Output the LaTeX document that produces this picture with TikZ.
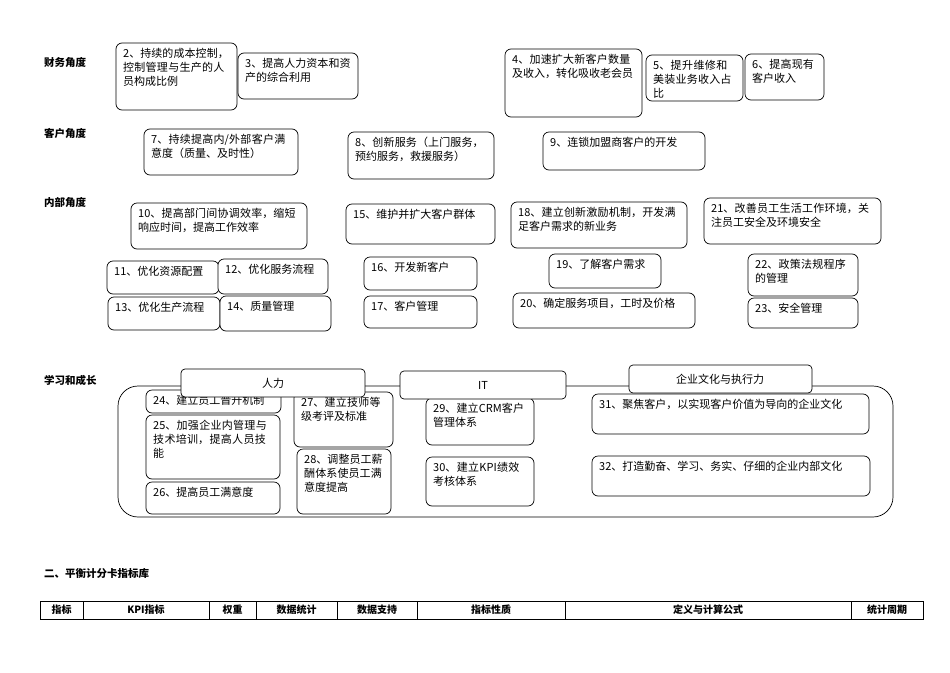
\documentclass[tikz,border=0pt]{standalone}
\usepackage{fontspec}
\setmainfont{Noto Sans CJK SC}
\XeTeXlinebreaklocale "zh"
\XeTeXlinebreakskip=0pt plus 1pt
\tikzset{bx/.style={draw=black,line width=0.7pt,rounded corners=6pt,fill=white},
 tx/.style={anchor=north west,inner sep=0pt,align=left,font=\fontsize{11}{14}\selectfont},
 lab/.style={anchor=west,inner sep=0pt,font=\fontsize{10.5}{12}\selectfont\bfseries},
 th/.style={inner sep=0pt,font=\fontsize{10}{12}\selectfont\bfseries}}
\newcommand\bxx[6]{%
 \draw[bx] (#2pt,-#3pt) rectangle (#4pt,-#5pt);
 \pgfmathsetmacro\tw{#4-#2-14}
 \node[tx,text width=\tw pt] (#1) at ({(#2+7)*1pt},{-(#3+5)*1pt}) {#6};}
\begin{document}
\begin{tikzpicture}[x=1pt,y=1pt]
\useasboundingbox (0,0) rectangle (950,-672);
\node[lab] (l1) at (44,-63) {财务角度};
\node[lab] (l2) at (44,-133) {客户角度};
\node[lab] (l3) at (44,-203) {内部角度};
\node[lab] (l4) at (44,-380) {学习和成长};
\bxx{b2}{116}{43}{237}{110}{2、持续的成本控制，控制管理与生产的人员构成比例}
\bxx{b3}{238}{53}{358}{99}{3、提高人力资本和资产的综合利用}
\bxx{b4}{505}{49}{642}{117}{4、加速扩大新客户数量及收入，转化吸收老会员}
\bxx{b5}{646}{55}{743}{101}{5、提升维修和美装业务收入占比}
\bxx{b6}{745}{54}{824}{100}{6、提高现有客户收入}
\bxx{b7}{144}{129}{298}{175}{7、持续提高内/外部客户满意度（质量、及时性）}
\bxx{b8}{348}{132}{494}{179}{8、创新服务（上门服务，预约服务，救援服务）}
\bxx{b9}{543}{132}{705}{170}{9、连锁加盟商客户的开发}
\bxx{b10}{131}{203}{307}{249}{10、提高部门间协调效率，缩短响应时间，提高工作效率}
\bxx{b15}{346}{204}{495}{244}{15、维护并扩大客户群体}
\bxx{b18}{511}{202}{687}{248}{18、建立创新激励机制，开发满足客户需求的新业务}
\bxx{b21}{704}{198}{881}{244}{21、改善员工生活工作环境，关注员工安全及环境安全}
\bxx{b11}{107}{261}{219}{294}{11、优化资源配置}
\bxx{b12}{218}{259}{328}{294}{12、优化服务流程}
\bxx{b13}{108}{297}{220}{330}{13、优化生产流程}
\bxx{b14}{220}{296}{331}{331}{14、质量管理}
\bxx{b16}{364}{257}{477}{290}{16、开发新客户}
\bxx{b17}{364}{296}{477}{328}{17、客户管理}
\bxx{b19}{549}{254}{661}{288}{19、了解客户需求}
\bxx{b20}{513}{293}{695}{328}{20、确定服务项目，工时及价格}
\bxx{b22}{748}{254}{858}{296}{22、政策法规程序的管理}
\bxx{b23}{748}{298}{858}{328}{23、安全管理}
\draw[bx,rounded corners=20pt] (118,-386) rectangle (893,-517);
\bxx{b24}{146}{390}{281}{413}{24、建立员工晋升机制}
\bxx{b25}{146}{415}{280}{479}{25、加强企业内管理与技术培训，提高人员技能}
\bxx{b26}{146}{482}{280}{514}{26、提高员工满意度}
\bxx{b27}{294}{392}{393}{447}{27、建立技师等级考评及标准}
\bxx{b28}{297}{449}{391}{514}{28、调整员工薪酬体系使员工满意度提高}
\bxx{b29}{426}{398}{534}{445}{29、建立CRM客户管理体系}
\bxx{b30}{426}{457}{534}{506}{30、建立KPI绩效考核体系}
\bxx{b31}{592}{394}{869}{434}{31、聚焦客户，以实现客户价值为导向的企业文化}
\bxx{b32}{592}{456}{870}{496}{32、打造勤奋、学习、务实、仔细的企业内部文化}
\draw[bx,rounded corners=4pt] (181,-369) rectangle (365,-397);
\node[tx,anchor=center] (h1) at (273,-383) {人力};
\draw[bx,rounded corners=4pt] (400,-371) rectangle (566,-399);
\node[tx,anchor=center] (h2) at (483,-385) {IT};
\draw[bx,rounded corners=4pt] (629,-365) rectangle (812,-393);
\node[tx,anchor=center] (h3) at (720,-379) {企业文化与执行力};
\node[lab] (t) at (44,-573) {二、平衡计分卡指标库};
\draw[line width=0.7pt] (40,-601) rectangle (923,-619);
\foreach \x in {83,209,256,337,417,565,851} \draw[line width=0.7pt] (\x,-601) -- (\x,-619);
\node[th] (c1) at (61.5,-610) {指标};
\node[th] (c2) at (146,-610) {KPI指标};
\node[th] (c3) at (232.5,-610) {权重};
\node[th] (c4) at (296.5,-610) {数据统计};
\node[th] (c5) at (377,-610) {数据支持};
\node[th] (c6) at (491,-610) {指标性质};
\node[th] (c7) at (708,-610) {定义与计算公式};
\node[th] (c8) at (887,-610) {统计周期};
\end{tikzpicture}
\end{document}
